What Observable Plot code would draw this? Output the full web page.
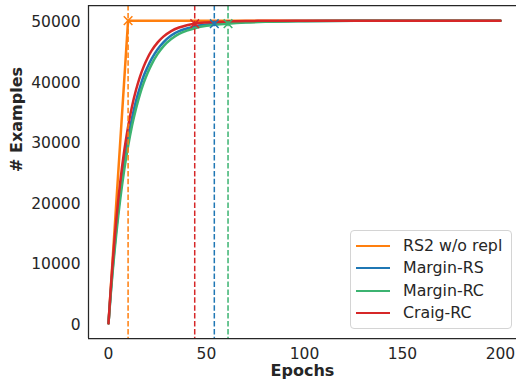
<!DOCTYPE html>
<html>
<head>
<meta charset="utf-8">
<script src="https://cdn.jsdelivr.net/npm/d3@7"></script>
<script src="https://cdn.jsdelivr.net/npm/@observablehq/plot@0.6"></script>
<style>
  html, body { margin: 0; padding: 0; background: #fff; }
  #wrap { position: relative; width: 516px; height: 381px; overflow: hidden; font-family: "DejaVu Sans", sans-serif; }
  #legend { position: absolute; left: 350px; top: 230px; width: 162px; height: 99px; border: 1px solid #d4d4d4; border-radius: 4px; background: rgba(255,255,255,0.85); box-sizing: border-box; }
  .item { position: absolute; left: 0; height: 20px; font-size: 15.8px; color: #262626; line-height: 20px; white-space: nowrap; }
  .item .sw { position: absolute; left: 5px; top: 9px; width: 34px; height: 2px; }
  .item .lab { position: absolute; left: 52px; top: 0; }
</style>
</head>
<body>
<div id="wrap"></div>
<script>
const methods = ["RS2 w/o repl", "Margin-RS", "Margin-RC", "Craig-RC"];
const colors = ["#ff7f0e", "#1f77b4", "#3cb371", "#d62728"];

const rs2Epochs = [0, 10, 200];
const rs2Values = [0, 50000, 50000];

const epochs = [0,1,2,3,4,5,6,8,10,12,14,16,18,20,22,25,28,32,36,40,44,50,54,61,70,80,100,130,160,200];
const marginRS = [0,4490,8580,12300,15660,18730,21530,26450,30470,33890,36680,38950,40890,42380,43670,45230,46410,47550,48250,48700,49050,49350,49500,49650,49790,49880,49950,49990,50000,50000];
const marginRC = [0,4210,8070,11600,14840,17810,20530,25290,29240,32620,35410,37780,39760,41400,42780,44460,45750,46950,47800,48350,48750,49150,49300,49500,49680,49800,49910,49970,49990,50000];
const craigRC = [0,4980,9470,13520,17150,20420,23370,28420,32500,35830,38500,40680,42450,43880,45040,46370,47350,48270,48860,49250,49500,49700,49790,49880,49940,49970,49990,50000,50000,50000];

const cutEpochs = [10, 54, 61, 44];
const cutValues = [50000, 49500, 49500, 49500];

const xTicks = [0, 50, 100, 150, 200];
const yTicks = [0, 10000, 20000, 30000, 40000, 50000];
const xDomain = [-10.2, 208.2];
const yDomain = [-2500, 52500];

const rs2Rows = rs2Epochs.map((e, i) => ({epoch: e, examples: rs2Values[i], method: methods[0]}));
const rows = [];
[marginRS, marginRC, craigRC].forEach((arr, k) => {
  epochs.forEach((e, i) => rows.push({epoch: e, examples: arr[i], method: methods[k + 1]}));
});
const cuts = methods.map((m, i) => ({method: m, epoch: cutEpochs[i], examples: cutValues[i]}));

const ink = "#262626";

const chart = Plot.plot({
  width: 516,
  height: 381,
  marginLeft: 88,
  marginRight: 0,
  marginTop: 5,
  marginBottom: 43,
  style: {fontFamily: "DejaVu Sans, sans-serif", fontSize: "15.5px", color: ink, background: "white", overflow: "visible"},
  x: {domain: xDomain},
  y: {domain: yDomain},
  color: {domain: methods, range: colors},
  marks: [
    Plot.axisX({ticks: xTicks, tickSize: 0, tickPadding: 9, tickFormat: "d", label: null, fill: ink}),
    Plot.axisY({ticks: yTicks, tickSize: 0, tickPadding: 8, tickFormat: "d", label: null, fill: ink, dy: 1.5}),
    Plot.line(rs2Rows, {x: "epoch", y: "examples", stroke: "method", strokeWidth: 2.5}),
    Plot.line(rows, {x: "epoch", y: "examples", z: "method", stroke: "method", strokeWidth: 2.5, curve: "monotone-x"}),
    Plot.ruleX(cuts, {x: "epoch", stroke: "method", strokeWidth: 1.5, strokeDasharray: "5.5,2.4"}),
    Plot.dot(cuts, {x: "epoch", y: "examples", stroke: "method", symbol: "times", r: 4, strokeWidth: 1.5}),
    Plot.ruleX([xDomain[0]], {stroke: ink, strokeWidth: 1.25}),
    Plot.ruleY([yDomain[0], yDomain[1]], {stroke: ink, strokeWidth: 1.25}),
    Plot.text(["Epochs"], {frameAnchor: "bottom", dy: 37.5, fontWeight: "bold", fontSize: 16, fill: ink}),
    Plot.text(["# Examples"], {frameAnchor: "left", dx: -72, rotate: -90, fontWeight: "bold", fontSize: 16, fill: ink})
  ]
});

const wrap = document.getElementById("wrap");
wrap.appendChild(chart);

const legend = document.createElement("div");
legend.id = "legend";
const tops = [5, 27, 50, 72];
methods.forEach((m, i) => {
  const it = document.createElement("div");
  it.className = "item";
  it.style.top = tops[i] + "px";
  const sw = document.createElement("div");
  sw.className = "sw";
  sw.style.background = colors[i];
  const lab = document.createElement("div");
  lab.className = "lab";
  lab.textContent = m;
  it.appendChild(sw);
  it.appendChild(lab);
  legend.appendChild(it);
});
wrap.appendChild(legend);
</script>
</body>
</html>
